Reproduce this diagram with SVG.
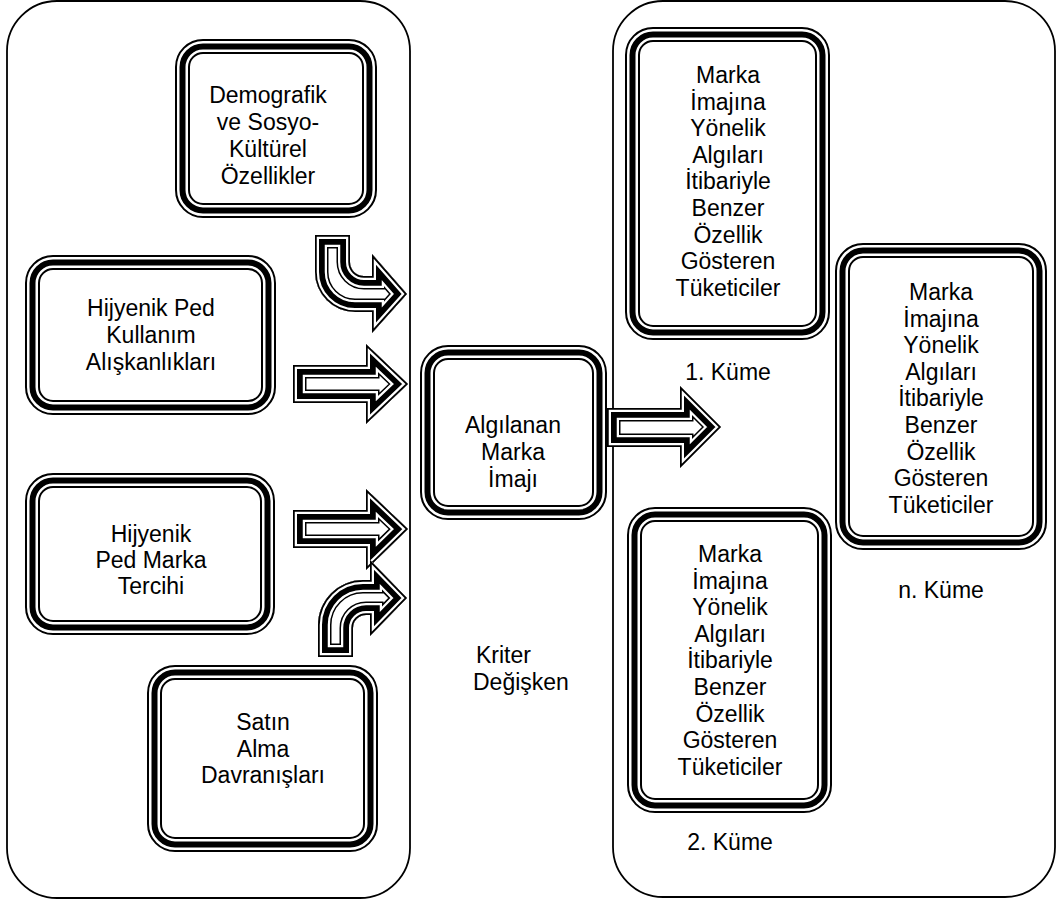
<svg xmlns="http://www.w3.org/2000/svg" width="1059" height="902" viewBox="0 0 1059 902">
<style>
.panel{fill:none;stroke:#000;stroke-width:1.8}
.o{fill:#fff;stroke:#000;stroke-width:2}
.m{fill:none;stroke:#000;stroke-width:6}
.i{fill:none;stroke:#000;stroke-width:2}
text{font-family:"Liberation Sans",Arial,sans-serif;font-size:23px;fill:#000;text-anchor:middle}
.l{text-anchor:start}
.a0{fill:#fff;stroke:#000;stroke-width:27;stroke-linejoin:miter;stroke-miterlimit:30}
.a1{fill:none;stroke:#fff;stroke-width:24;stroke-linejoin:miter;stroke-miterlimit:30}
.a2{fill:none;stroke:#000;stroke-width:19.5;stroke-linejoin:miter;stroke-miterlimit:30}
.a3{fill:none;stroke:#fff;stroke-width:8;stroke-linejoin:miter;stroke-miterlimit:30}
.a4{fill:none;stroke:#000;stroke-width:3.5;stroke-linejoin:miter;stroke-miterlimit:30}
</style>
<defs>
<path id="pC1" d="M315,235 H350 V262 A14,14 0 0 0 364,276 H372 V254 L407,294 L372,333 V312 H355 A40,40 0 0 1 315,272 Z"/>
<path id="pS1" d="M293,365 H366 V344 L408,384 L366,424 V403 H293 Z"/>
<path id="pS2" d="M293,510 H366 V489 L408,529 L366,570 V548 H293 Z"/>
<path id="pC2" d="M318,657 V625 A45,45 0 0 1 363,580 H370 V560 L407,598 L370,636 V615 H366 A13,13 0 0 0 353,628 V657 Z"/>
<path id="pS3" d="M607,408 H680 V386 L721,427 L680,468 V447 H607 Z"/>
<clipPath id="cC1"><use href="#pC1"/></clipPath>
<clipPath id="cS1"><use href="#pS1"/></clipPath>
<clipPath id="cS2"><use href="#pS2"/></clipPath>
<clipPath id="cC2"><use href="#pC2"/></clipPath>
<clipPath id="cS3"><use href="#pS3"/></clipPath>
</defs>
<rect width="1059" height="902" fill="#fff"/>
<g id="panels">
<rect class="panel" x="7" y="1" width="403" height="897" rx="50"/>
<rect class="panel" x="613" y="1" width="442" height="896" rx="50"/>
</g>
<g id="connectors">
<g id="arrow-demografik" clip-path="url(#cC1)"><use href="#pC1" class="a0"/><use href="#pC1" class="a1"/><use href="#pC1" class="a2"/><use href="#pC1" class="a3"/><use href="#pC1" class="a4"/></g>
<g id="arrow-kullanim" clip-path="url(#cS1)"><use href="#pS1" class="a0"/><use href="#pS1" class="a1"/><use href="#pS1" class="a2"/><use href="#pS1" class="a3"/><use href="#pS1" class="a4"/></g>
<g id="arrow-tercih" clip-path="url(#cS2)"><use href="#pS2" class="a0"/><use href="#pS2" class="a1"/><use href="#pS2" class="a2"/><use href="#pS2" class="a3"/><use href="#pS2" class="a4"/></g>
<g id="arrow-satin" clip-path="url(#cC2)"><use href="#pC2" class="a0"/><use href="#pC2" class="a1"/><use href="#pC2" class="a2"/><use href="#pC2" class="a3"/><use href="#pC2" class="a4"/></g>
<g id="arrow-imaj" clip-path="url(#cS3)"><use href="#pS3" class="a0"/><use href="#pS3" class="a1"/><use href="#pS3" class="a2"/><use href="#pS3" class="a3"/><use href="#pS3" class="a4"/></g>
</g>
<g id="node-demografik">
<rect class="o" x="176" y="40" width="200" height="177" rx="27"/>
<rect class="m" x="182.5" y="46.5" width="187" height="164" rx="20.5"/>
<rect class="i" x="189" y="53" width="174" height="151" rx="14"/>
<text x="268" y="103">Demografik</text>
<text x="268" y="130">ve Sosyo-</text>
<text x="268" y="157">Kültürel</text>
<text x="268" y="184">Özellikler</text>
</g>
<g id="node-kullanim">
<rect class="o" x="26" y="256" width="249" height="158" rx="27"/>
<rect class="m" x="32.5" y="262.5" width="236" height="145" rx="20.5"/>
<rect class="i" x="39" y="269" width="223" height="132" rx="14"/>
<text x="151" y="316">Hijyenik Ped</text>
<text x="151" y="343">Kullanım</text>
<text x="151" y="370">Alışkanlıkları</text>
</g>
<g id="node-tercih">
<rect class="o" x="26" y="474" width="248" height="160" rx="27"/>
<rect class="m" x="32.5" y="480.5" width="235" height="147" rx="20.5"/>
<rect class="i" x="39" y="487" width="222" height="134" rx="14"/>
<text x="151" y="542">Hijyenik</text>
<text x="151" y="568">Ped Marka</text>
<text x="151" y="594">Tercihi</text>
</g>
<g id="node-satin">
<rect class="o" x="148" y="666" width="229" height="185" rx="27"/>
<rect class="m" x="154.5" y="672.5" width="216" height="172" rx="20.5"/>
<rect class="i" x="161" y="679" width="203" height="159" rx="14"/>
<text x="263" y="730">Satın</text>
<text x="263" y="757">Alma</text>
<text x="263" y="783">Davranışları</text>
</g>
<g id="node-imaj">
<rect class="o" x="421" y="346" width="185" height="173" rx="27"/>
<rect class="m" x="427.5" y="352.5" width="172" height="160" rx="20.5"/>
<rect class="i" x="434" y="359" width="159" height="147" rx="14"/>
<text x="513" y="433">Algılanan</text>
<text x="513" y="460">Marka</text>
<text x="513" y="487">İmajı</text>
</g>
<g id="label-kriter">
<text class="l" x="476" y="663">Kriter</text>
<text class="l" x="473" y="690">Değişken</text>
</g>
<g id="node-kume1">
<rect class="o" x="626" y="28" width="203" height="311" rx="27"/>
<rect class="m" x="632.5" y="34.5" width="190" height="298" rx="20.5"/>
<rect class="i" x="639" y="41" width="177" height="285" rx="14"/>
<text x="728" y="83">Marka<tspan x="728" dy="26.6">İmajına</tspan><tspan x="728" dy="26.6">Yönelik</tspan><tspan x="728" dy="26.6">Algıları</tspan><tspan x="728" dy="26.6">İtibariyle</tspan><tspan x="728" dy="26.6">Benzer</tspan><tspan x="728" dy="26.6">Özellik</tspan><tspan x="728" dy="26.6">Gösteren</tspan><tspan x="728" dy="26.6">Tüketiciler</tspan></text>
<text x="728" y="380">1. Küme</text>
</g>
<g id="node-kumen">
<rect class="o" x="836" y="244" width="210" height="305" rx="27"/>
<rect class="m" x="842.5" y="250.5" width="197" height="292" rx="20.5"/>
<rect class="i" x="849" y="257" width="184" height="279" rx="14"/>
<text x="941" y="300">Marka<tspan x="941" dy="26.6">İmajına</tspan><tspan x="941" dy="26.6">Yönelik</tspan><tspan x="941" dy="26.6">Algıları</tspan><tspan x="941" dy="26.6">İtibariyle</tspan><tspan x="941" dy="26.6">Benzer</tspan><tspan x="941" dy="26.6">Özellik</tspan><tspan x="941" dy="26.6">Gösteren</tspan><tspan x="941" dy="26.6">Tüketiciler</tspan></text>
<text x="941" y="598">n. Küme</text>
</g>
<g id="node-kume2">
<rect class="o" x="628" y="508" width="203" height="304" rx="27"/>
<rect class="m" x="634.5" y="514.5" width="190" height="291" rx="20.5"/>
<rect class="i" x="641" y="521" width="177" height="278" rx="14"/>
<text x="730" y="562">Marka<tspan x="730" dy="26.6">İmajına</tspan><tspan x="730" dy="26.6">Yönelik</tspan><tspan x="730" dy="26.6">Algıları</tspan><tspan x="730" dy="26.6">İtibariyle</tspan><tspan x="730" dy="26.6">Benzer</tspan><tspan x="730" dy="26.6">Özellik</tspan><tspan x="730" dy="26.6">Gösteren</tspan><tspan x="730" dy="26.6">Tüketiciler</tspan></text>
<text x="730" y="850">2. Küme</text>
</g>
</svg>
